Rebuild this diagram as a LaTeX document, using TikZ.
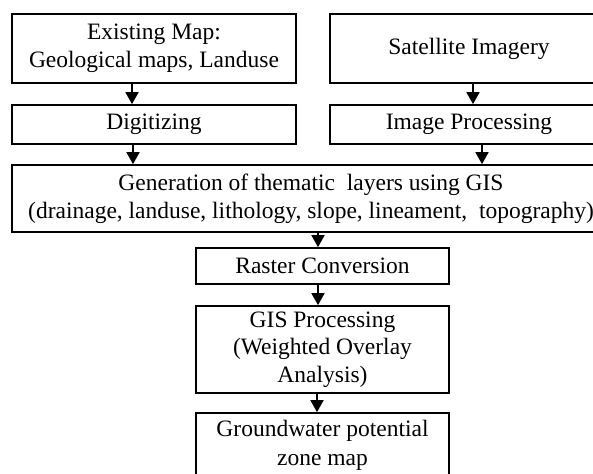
\documentclass[tikz,border=0pt]{standalone}
\usepackage{fontspec}
\setmainfont{Liberation Serif}
\usetikzlibrary{arrows.meta}
\begin{document}
\begin{tikzpicture}[x=1pt,y=-1pt,
  box/.style={draw=black,line width=1.7pt,rectangle,inner sep=0pt,align=center,
    font=\fontsize{23.5}{28}\selectfont},
  arr/.style={line width=1.7pt,-{Triangle[length=12pt,width=13pt]}}]
\useasboundingbox (0,0) rectangle (593,473);
\clip (0,0) rectangle (593,473);
\node[box,minimum width=284pt,minimum height=69pt] (exist) at (154,48.5) {Existing Map:\\Geological maps, Landuse};
\node[box,minimum width=278pt,minimum height=69pt] (sat) at (469,48.5) {Satellite Imagery};
\node[box,minimum width=284pt,minimum height=39pt] (dig) at (154,124.5) {Digitizing};
\node[box,minimum width=278pt,minimum height=39pt] (imgp) at (469,124.5) {Image Processing};
\node[box,minimum width=598pt,minimum height=67pt] (gen) at (311,198.5) {Generation of thematic\ \ layers using GIS\\(drainage, landuse, lithology, slope, lineament,\ \ topography)};
\node[box,minimum width=253pt,minimum height=36pt] (rast) at (322.5,266) {Raster Conversion};
\node[box,minimum width=253pt,minimum height=87pt,font=\fontsize{23.5}{27.5}\selectfont] (gis) at (322.5,349.5) {GIS Processing\\(Weighted Overlay\\Analysis)};
\node[box,minimum width=253pt,minimum height=64pt,font=\fontsize{23.5}{29}\selectfont] (gw) at (322.5,445) {Groundwater potential\\zone map};
\draw[arr] (exist.south -| 132,0) -- (dig.north -| 132,0);
\draw[arr] (dig.south -| 133,0) -- (gen.north -| 133,0);
\draw[arr] (sat.south -| 473,0) -- (imgp.north -| 473,0);
\draw[arr] (imgp.south -| 482,0) -- (gen.north -| 482,0);
\draw[arr] (gen.south -| 318,0) -- (rast.north -| 318,0);
\draw[arr] (rast.south -| 318,0) -- (gis.north -| 318,0);
\draw[arr] (gis.south -| 317,0) -- (gw.north -| 317,0);
\end{tikzpicture}
\end{document}
